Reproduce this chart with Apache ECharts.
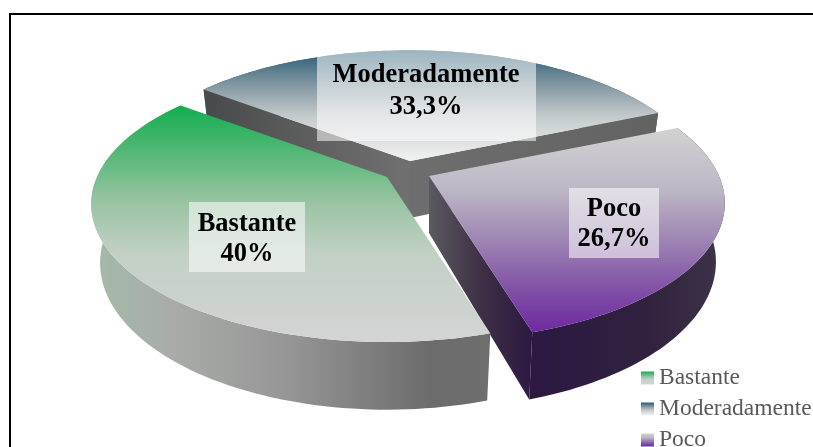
<!DOCTYPE html>
<html><head><meta charset="utf-8">
<style>html,body{margin:0;padding:0;background:#fff;overflow:hidden}#c{width:813px;height:447px}</style>
<script src="https://cdn.jsdelivr.net/npm/echarts@6/dist/echarts.min.js"></script>
</head><body><div id="c"></div>
<script>
var categories = ['Bastante', 'Moderadamente', 'Poco'];
var values = [40, 33.3, 26.7];
var valueLabels = ['40%', '33,3%', '26,7%'];

var firstSliceAngle = 163.2;
var total = values.reduce(function (s, v) { return s + v; }, 0);
var RX = 290, RY = 132.5, PERSP = 0.197, DEPTH = 57, BASE_X = 0.97, BASE_Y = 0.98;

function vgrad(stops) {
  return new echarts.graphic.LinearGradient(0, 0, 0, 1, stops.map(function (s) { return { offset: s[0], color: s[1] }; }));
}
function hgrad(stops) {
  return new echarts.graphic.LinearGradient(0, 0, 1, 0, stops.map(function (s) { return { offset: s[0], color: s[1] }; }));
}
var looks = [
  { apex: [387, 177], z: 3,
    top: [[0, '#12ad4e'], [0.4, '#97c3a1'], [0.62, '#c2d0c5'], [1, '#d4d4d4']],
    rim: [[0, '#a4baa9'], [0.2, '#a9aca9'], [0.5, '#959595'], [0.85, '#6c6c6c'], [1, '#6e6e6e']],
    wallStart: null, wallEnd: null,
    box: [189, 202, 116, 70], text: [247, 224, 254] },
  { apex: [410, 161], z: 1,
    top: [[0, '#265a76'], [0.3, '#7f959f'], [0.6, '#c5cbcd'], [1, '#f2f2f2']],
    rim: [[0, '#555'], [1, '#555']],
    wallStart: [[0, '#48494a'], [0.7, '#666666'], [1, '#707070']], wallEnd: [[0, '#6e6e6e'], [1, '#626262']],
    box: [317, 45, 219, 96], text: [426, 75, 107] },
  { apex: [429, 176], z: 2,
    top: [[0, '#d2d2d2'], [0.3, '#bdb7c6'], [0.5, '#a48fb6'], [0.8, '#7f4ea6'], [1, '#6e2a9f']],
    rim: [[0, '#2c1842'], [0.6, '#31213f'], [1, '#3e3449']],
    wallStart: null, wallEnd: [[0, '#5a5a60'], [0.5, '#3e3046'], [1, '#2c1842']],
    box: [569, 188, 90, 70], text: [614, 209, 239] }
];

function sliceAngles(idx) {
  var a = firstSliceAngle;
  for (var i = 0; i < idx; i++) a += values[i] / total * 360;
  return [a, a + values[idx] / total * 360];
}
function project(apex, deg, r, lower) {
  var t = deg * Math.PI / 180, u = r * Math.sin(t), v = -r * Math.cos(t), w = 1 - PERSP * v;
  var x = RX * u / w, y = RY * v / w;
  if (lower) return [apex[0] + x * BASE_X, apex[1] + y * BASE_Y + DEPTH / w];
  return [apex[0] + x, apex[1] + y];
}
function arc(apex, a0, a1, lower) {
  var pts = [], n = Math.ceil((a1 - a0) / 1.5);
  for (var i = 0; i <= n; i++) pts.push(project(apex, a0 + (a1 - a0) * i / n, 1, lower));
  return pts;
}
function poly(points, fill) {
  return { type: 'polygon', shape: { points: points }, style: { fill: fill }, silent: true };
}
function renderSlice(idx) {
  return function () {
    var look = looks[idx], ang = sliceAngles(idx), A = look.apex;
    var up = arc(A, ang[0], ang[1], false), low = arc(A, ang[0], ang[1], true);
    var apexLow = project(A, 0, 0, true);
    var kids = [];
    kids.push(poly(up.concat(low.slice().reverse()), hgrad(look.rim)));
    if (look.wallStart) kids.push(poly([A, up[0], low[0], apexLow], hgrad(look.wallStart)));
    if (look.wallEnd) kids.push(poly([A, up[up.length - 1], low[low.length - 1], apexLow], hgrad(look.wallEnd)));
    kids.push(poly([A].concat(up), vgrad(look.top)));
    var b = look.box, t = look.text;
    kids.push({ type: 'rect', shape: { x: b[0], y: b[1], width: b[2], height: b[3] },
      style: { fill: 'rgba(255,255,255,0.55)' }, silent: true });
    [categories[idx], valueLabels[idx]].forEach(function (s, k) {
      kids.push({ type: 'text', silent: true, style: {
        text: s, x: t[0], y: t[k + 1], fill: '#000', align: 'center', verticalAlign: 'middle',
        font: 'bold 26.5px "Liberation Serif"' } });
    });
    return { type: 'group', children: kids };
  };
}

var chart = echarts.init(document.getElementById('c'), null, { renderer: 'canvas' });
chart.setOption({
  animation: false,
  backgroundColor: '#fff',
  legend: {
    data: categories, orient: 'vertical', left: 641, top: 366, height: 120, padding: 0,
    itemWidth: 13, itemHeight: 13, itemGap: 7, icon: 'rect',
    textStyle: { fontFamily: 'Liberation Serif', fontSize: 23.5, lineHeight: 24, color: '#595959' },
    selectedMode: false
  },
  graphic: [
    { type: 'line', shape: { x1: 10, y1: 14, x2: 813, y2: 14 }, style: { stroke: '#000', lineWidth: 2 }, silent: true },
    { type: 'line', shape: { x1: 10, y1: 13, x2: 10, y2: 447 }, style: { stroke: '#000', lineWidth: 2 }, silent: true }
  ],
  series: categories.map(function (name, i) {
    return {
      type: 'custom', name: name, coordinateSystem: 'none', z: looks[i].z,
      data: [[values[i]]], renderItem: renderSlice(i),
      itemStyle: { color: vgrad(looks[i].top) }, silent: true
    };
  })
});
</script></body></html>
